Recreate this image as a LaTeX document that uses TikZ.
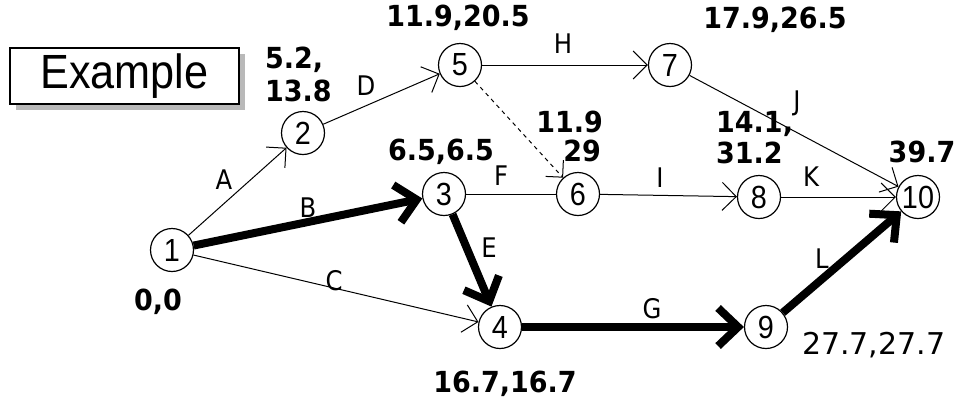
\documentclass[tikz,border=0pt]{standalone}
\usepackage{fontspec}
\usepackage{graphicx}
\setmainfont{DejaVu Sans}
\newfontfamily\nodefont{Liberation Sans}
\usetikzlibrary{arrows.meta}
\newcommand{\narrow}[1]{\scalebox{0.9}[1]{#1}}
\newcommand{\narrowb}[1]{\scalebox{0.93}[1]{#1}}
\begin{document}
\begin{tikzpicture}[x=1pt,y=-1pt,
  ev/.style={circle,draw,line width=1.2pt,minimum size=43pt,inner sep=0pt,font=\nodefont\fontsize{32}{32}\selectfont},
  act/.style={line width=1pt,-{Straight Barb[length=14pt,width=28pt]}},
  plain/.style={line width=1pt},
  dummy/.style={line width=1pt,dash pattern=on 4pt off 4pt,-{Straight Barb[length=12pt,width=24pt]}},
  crit/.style={line width=8pt,-{Straight Barb[length=20pt,width=38pt]}},
  lab/.style={font=\fontsize{27}{27}\selectfont,inner sep=0pt},
  tim/.style={font=\bfseries\fontsize{29}{29}\selectfont,inner sep=0pt},
  tim2/.style={font=\fontsize{30}{30}\selectfont,inner sep=0pt},
]
\useasboundingbox (0,0) rectangle (956,400);
% Example box with shadow
\fill[gray!55] (16,54) rectangle (245,110);
\node[draw,line width=1.2pt,fill=white,minimum width=229pt,minimum height=56pt,inner sep=0pt,
      font=\nodefont\fontsize{48}{48}\selectfont] (ex) at (124.5,76) {\narrow{Example}};
% events
\node[ev] (n1) at (172,250) {\narrow{1}};
\node[ev] (n2) at (303,133) {\narrow{2}};
\node[ev] (n3) at (444,194) {\narrow{3}};
\node[ev] (n4) at (500,327) {\narrow{4}};
\node[ev] (n5) at (460,65) {\narrow{5}};
\node[ev] (n6) at (578,194) {\narrow{6}};
\node[ev] (n7) at (670,65) {\narrow{7}};
\node[ev] (n8) at (759,197) {\narrow{8}};
\node[ev] (n9) at (766,327) {\narrow{9}};
\node[ev] (n10) at (918,197) {\narrow{10}};
% activities
\draw[act] (n1) -- (n2);
\draw[crit] (n1) -- (n3);
\draw[act] (n1) -- (n4);
\draw[act] (n2) -- (n5);
\draw[crit] (n3) -- (n4);
\draw[plain] (n3) -- (n6);
\draw[dummy] (n5) -- (n6);
\draw[crit] (n4) -- (n9);
\draw[act] (n5) -- (n7);
\draw[act] (n6) -- (n8);
\draw[act] (n7) -- (n10);
\draw[act] (n8) -- (n10);
\draw[crit] (n9) -- (n10);
% activity labels
\node[lab] (lA) at (224,180) {\narrow{A}};
\node[lab] (lB) at (308,208) {\narrow{B}};
\node[lab] (lC) at (334,281) {\narrow{C}};
\node[lab] (lD) at (366,86) {\narrow{D}};
\node[lab] (lE) at (489,248) {\narrow{E}};
\node[lab] (lF) at (501,176) {\narrow{F}};
\node[lab] (lG) at (652,309) {\narrow{G}};
\node[lab] (lH) at (563,44) {\narrow{H}};
\node[lab] (lI) at (660,178) {\narrow{I}};
\node[lab] (lJ) at (797,103) {\narrow{J}};
\node[lab] (lK) at (811,177) {\narrow{K}};
\node[lab] (lL) at (822,259) {\narrow{L}};
% times
\node[tim] (t1) at (158,302) {\narrowb{0,0}};
\node[tim,anchor=west] (t2a) at (265,60) {\narrowb{5.2,}};
\node[tim,anchor=west] (t2b) at (265,91) {\narrowb{13.8}};
\node[tim] (t3) at (441,152) {\narrowb{6.5,6.5}};
\node[tim] (t4) at (505,384) {\narrowb{16.7,16.7}};
\node[tim] (t5) at (458,18) {\narrowb{11.9,20.5}};
\node[tim,anchor=east] (t6a) at (603,122) {\narrowb{11.9}};
\node[tim,anchor=east] (t6b) at (601,151) {\narrowb{29}};
\node[tim] (t7) at (775,20) {\narrowb{17.9,26.5}};
\node[tim,anchor=west] (t8a) at (716,124) {\narrowb{14.1,}};
\node[tim,anchor=west] (t8b) at (716,153) {\narrowb{31.2}};
\node[tim2,anchor=west] (t9) at (802,345) {27.7,27.7};
\node[tim] (t10) at (922,152) {\narrowb{39.7}};
\end{tikzpicture}
\end{document}
